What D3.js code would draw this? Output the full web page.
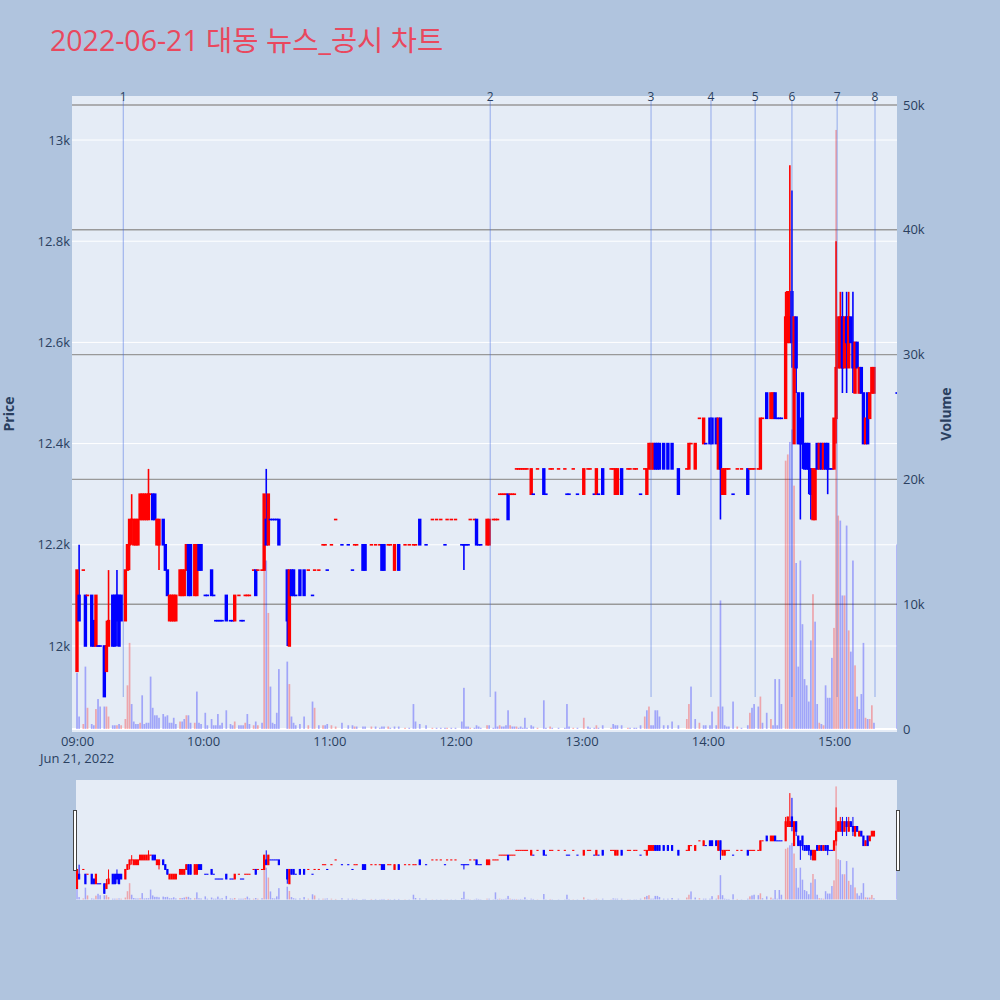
<!DOCTYPE html>
<html>
<head>
<meta charset="utf-8">
<script src="https://cdn.jsdelivr.net/npm/d3@7"></script>
<style>
body{margin:0;background:#b0c4de;}
text{font-family:"Open Sans","Noto Sans CJK KR",sans-serif;}
</style>
</head>
<body>
<svg id="chart" width="1000" height="1000"></svg>
<script>
// minutes after 09:00 for each traded minute
var tMin=[
 0,1,3,4,5,7,8,9,10,11,
 13,14,15,17,18,19,20,21,23,24,
 25,26,27,28,29,30,31,32,33,34,
 35,36,37,38,39,41,42,43,44,45,
 46,47,49,50,51,52,53,54,56,57,
 58,59,61,62,64,65,66,67,68,69,
 71,73,74,75,77,78,79,80,81,82,
 84,85,86,88,89,90,91,92,93,94,
 95,96,100,101,102,103,104,106,108,110,
 112,113,115,117,118,119,121,123,126,129,
 131,132,133,136,137,140,142,144,145,146,
 148,149,151,153,156,158,160,161,163,166,
 169,171,173,175,176,178,180,183,184,185,
 186,187,189,190,191,192,195,196,198,199,
 200,201,202,203,204,205,206,207,208,209,
 210,211,212,213,214,216,217,219,222,223,
 225,226,229,232,233,234,236,238,241,243,
 244,246,247,248,250,254,255,256,257,259,
 262,263,265,266,268,270,271,272,273,274,
 275,276,277,279,281,283,286,290,291,292,
 294,296,298,299,301,302,304,305,306,307,
 308,309,310,312,314,316,319,320,321,322,
 324,325,326,328,330,331,332,333,334,335,
 337,338,339,340,341,342,343,344,345,346,
 347,348,349,350,351,352,353,354,355,356,
 357,358,359,360,361,362,363,364,365,366,
 367,368,369,370,371,372,373,374,375,376,
 377,378,379,390];
var openP=[
 11950,12100,12150,12100,12100,12100,12050,12000,12000,12000,
 12000,11950,12000,12100,12100,12100,12100,12100,12050,12150,
 12200,12250,12200,12200,12200,12250,12250,12250,12250,12250,
 12300,12300,12300,12200,12200,12250,12200,12150,12050,12050,
 12050,12050,12100,12100,12100,12150,12200,12200,12100,12100,
 12200,12200,12100,12100,12150,12100,12050,12050,12050,12050,
 12100,12050,12050,12050,12100,12050,12050,12100,12100,12100,
 12150,12150,12150,12150,12150,12250,12200,12250,12250,12250,
 12250,12250,12150,12000,12150,12150,12100,12150,12150,12150,
 12100,12150,12150,12200,12200,12150,12200,12250,12200,12200,
 12150,12200,12200,12200,12200,12200,12200,12200,12200,12200,
 12200,12200,12150,12200,12200,12200,12200,12200,12250,12200,
 12250,12250,12250,12200,12250,12250,12250,12200,12200,12200,
 12200,12250,12250,12250,12200,12200,12200,12200,12250,12250,
 12250,12300,12300,12300,12300,12300,12300,12300,12300,12350,
 12350,12350,12350,12350,12350,12300,12300,12350,12350,12300,
 12350,12350,12350,12350,12300,12300,12350,12300,12300,12350,
 12350,12300,12300,12300,12350,12350,12350,12300,12300,12350,
 12350,12350,12350,12350,12300,12350,12300,12350,12350,12350,
 12400,12400,12400,12400,12400,12400,12350,12350,12350,12400,
 12350,12450,12400,12400,12450,12450,12450,12350,12450,12300,
 12300,12350,12350,12300,12350,12350,12350,12350,12350,12350,
 12350,12350,12450,12500,12450,12450,12500,12450,12450,12450,
 12450,12600,12600,12700,12400,12650,12500,12450,12500,12400,
 12400,12400,12350,12250,12250,12400,12350,12400,12350,12400,
 12400,12350,12350,12350,12450,12550,12550,12650,12550,12650,
 12550,12650,12600,12500,12600,12500,12550,12500,12400,12500,
 12450,12500,12500,12500];
var highP=[
 12150,12200,12150,12100,12100,12100,12050,12100,12000,12000,
 12000,12050,12150,12100,12100,12150,12100,12100,12150,12200,
 12250,12300,12250,12250,12250,12300,12300,12300,12300,12350,
 12300,12300,12300,12250,12250,12250,12200,12150,12100,12100,
 12100,12100,12150,12150,12150,12200,12200,12200,12200,12200,
 12200,12200,12100,12100,12150,12100,12050,12050,12050,12050,
 12100,12050,12050,12100,12100,12050,12050,12100,12100,12100,
 12150,12150,12150,12150,12300,12350,12300,12250,12250,12250,
 12250,12250,12150,12150,12150,12150,12100,12150,12150,12150,
 12100,12150,12150,12200,12200,12150,12200,12250,12200,12200,
 12150,12200,12200,12200,12200,12200,12200,12200,12200,12200,
 12200,12200,12200,12200,12200,12200,12200,12200,12250,12200,
 12250,12250,12250,12200,12250,12250,12250,12200,12200,12200,
 12200,12250,12250,12250,12200,12200,12250,12250,12250,12250,
 12250,12300,12300,12300,12300,12300,12300,12300,12300,12350,
 12350,12350,12350,12350,12350,12350,12300,12350,12350,12300,
 12350,12350,12350,12350,12300,12300,12350,12300,12350,12350,
 12350,12300,12350,12300,12350,12350,12350,12350,12350,12350,
 12350,12350,12350,12350,12300,12350,12350,12400,12400,12400,
 12400,12400,12400,12400,12400,12400,12350,12350,12400,12400,
 12400,12450,12450,12400,12450,12450,12450,12450,12450,12350,
 12350,12350,12350,12300,12350,12350,12350,12350,12350,12350,
 12350,12450,12450,12500,12500,12500,12500,12450,12450,12450,
 12700,12700,12950,12900,12650,12650,12500,12450,12500,12400,
 12400,12400,12350,12350,12350,12400,12400,12400,12400,12400,
 12400,12350,12350,12450,12800,12650,12700,12700,12650,12700,
 12700,12650,12700,12600,12600,12550,12550,12500,12450,12500,
 12500,12550,12550,12500];
var lowP=[
 11950,12050,12150,12000,12100,12000,12000,12000,12000,12000,
 11900,11950,12000,12000,12000,12000,12000,12050,12050,12150,
 12150,12200,12200,12200,12200,12250,12250,12250,12250,12250,
 12300,12250,12250,12200,12150,12200,12150,12100,12050,12050,
 12050,12050,12100,12100,12100,12150,12100,12100,12100,12100,
 12150,12150,12100,12100,12100,12100,12050,12050,12050,12050,
 12050,12050,12050,12050,12100,12050,12050,12100,12100,12100,
 12150,12100,12150,12150,12150,12200,12200,12250,12250,12250,
 12250,12200,12000,12000,12100,12100,12100,12100,12100,12150,
 12100,12150,12150,12200,12200,12150,12200,12250,12200,12200,
 12150,12200,12200,12150,12150,12200,12200,12200,12150,12150,
 12200,12200,12150,12150,12200,12200,12200,12200,12200,12200,
 12250,12250,12250,12200,12250,12250,12250,12200,12150,12200,
 12200,12250,12250,12200,12200,12200,12200,12200,12250,12250,
 12250,12300,12300,12300,12300,12250,12300,12300,12300,12350,
 12350,12350,12350,12350,12350,12300,12300,12350,12300,12300,
 12350,12350,12350,12350,12300,12300,12350,12300,12300,12350,
 12350,12300,12300,12300,12300,12350,12350,12300,12300,12300,
 12350,12350,12350,12350,12300,12350,12300,12350,12350,12350,
 12350,12350,12350,12350,12350,12350,12300,12350,12350,12400,
 12350,12450,12400,12400,12400,12400,12400,12350,12250,12300,
 12300,12350,12350,12300,12350,12350,12300,12350,12350,12350,
 12350,12350,12450,12450,12450,12450,12450,12450,12450,12450,
 12450,12600,12600,12550,12400,12500,12400,12250,12350,12350,
 12350,12300,12250,12250,12250,12350,12350,12350,12350,12350,
 12300,12350,12350,12350,12400,12550,12550,12500,12550,12500,
 12550,12600,12500,12500,12550,12500,12500,12400,12400,12400,
 12450,12500,12500,12500];
var closeP=[
 12150,12050,12150,12000,12100,12000,12000,12100,12000,12000,
 11900,12000,12050,12000,12000,12050,12000,12050,12150,12200,
 12250,12250,12250,12250,12250,12300,12300,12300,12300,12300,
 12300,12250,12250,12250,12250,12200,12150,12100,12100,12100,
 12100,12100,12150,12150,12150,12200,12100,12100,12200,12200,
 12150,12150,12100,12100,12100,12100,12050,12050,12050,12050,
 12050,12050,12050,12100,12100,12050,12050,12100,12100,12100,
 12150,12100,12150,12150,12300,12200,12300,12250,12250,12250,
 12250,12200,12050,12150,12100,12100,12100,12100,12100,12150,
 12100,12150,12150,12200,12200,12150,12200,12250,12200,12200,
 12150,12200,12200,12150,12150,12200,12200,12200,12150,12150,
 12200,12200,12200,12150,12200,12200,12200,12200,12200,12200,
 12250,12250,12250,12200,12250,12250,12250,12200,12200,12200,
 12200,12250,12250,12200,12200,12200,12250,12250,12250,12250,
 12250,12300,12300,12300,12300,12250,12300,12300,12300,12350,
 12350,12350,12350,12350,12350,12350,12300,12350,12300,12300,
 12350,12350,12350,12350,12300,12300,12350,12300,12350,12350,
 12350,12300,12350,12300,12300,12350,12350,12350,12350,12300,
 12350,12350,12350,12350,12300,12350,12350,12400,12400,12400,
 12350,12350,12350,12350,12350,12350,12300,12350,12400,12400,
 12400,12450,12450,12400,12400,12400,12400,12450,12350,12350,
 12350,12350,12350,12300,12350,12350,12300,12350,12350,12350,
 12350,12450,12450,12450,12500,12500,12450,12450,12450,12450,
 12650,12700,12650,12600,12650,12550,12400,12400,12400,12350,
 12350,12350,12300,12350,12350,12350,12400,12350,12400,12350,
 12350,12350,12350,12450,12550,12650,12650,12550,12650,12600,
 12650,12600,12550,12600,12550,12550,12500,12400,12450,12400,
 12500,12550,12550,12500];
// volume in thousands of shares
var volK=[
 4.5,1.0,0.4,5.0,1.7,0.4,0.3,1.6,2.4,1.8,
 1.8,1.8,1.0,0.3,0.3,0.3,0.4,0.3,0.8,3.5,
 6.9,2.0,0.6,0.4,0.4,0.5,2.7,0.4,0.5,0.5,
 4.2,1.7,1.1,1.1,0.9,1.2,1.0,1.1,0.5,0.5,
 0.9,0.4,0.6,0.6,0.8,1.1,1.1,0.5,0.5,3.0,
 0.5,0.4,1.3,0.3,0.8,0.3,0.3,1.2,0.3,0.5,
 1.5,0.4,0.3,0.6,0.3,0.3,0.3,0.5,1.2,0.4,
 0.3,0.6,0.3,0.5,14.5,13.5,9.3,3.4,0.5,0.4,
 1.3,4.8,5.4,3.6,1.0,0.5,0.3,0.4,1.0,0.3,
 2.2,1.7,0.3,0.3,0.3,0.4,0.3,0.2,0.5,0.3,
 0.3,0.2,0.2,0.2,0.2,0.2,0.2,0.1,0.2,0.2,
 0.2,0.1,0.2,0.2,0.1,0.1,2.0,0.6,0.4,0.3,
 0.1,0.1,0.1,0.1,0.1,0.1,0.1,0.6,3.3,0.2,
 0.2,0.1,0.1,0.3,0.2,0.1,0.3,0.3,0.1,3.0,
 0.2,0.3,0.2,0.2,0.3,1.5,0.3,0.2,0.2,0.2,
 0.1,0.2,0.1,0.9,0.1,0.3,0.2,0.1,2.3,0.1,
 0.2,0.1,0.1,0.1,2.0,0.2,0.1,0.1,0.9,0.2,
 0.1,0.1,0.3,0.1,0.3,0.1,0.4,0.3,0.3,0.3,
 0.1,0.1,0.1,0.1,0.3,1.0,1.5,1.8,0.3,0.3,
 1.5,1.5,1.0,0.3,0.3,0.6,0.3,0.8,2.0,3.4,
 0.8,0.5,0.3,0.3,0.3,1.4,0.3,1.8,10.3,1.8,
 0.3,0.2,0.2,2.2,0.2,0.1,0.3,1.3,1.7,2.0,
 1.8,2.6,0.5,1.3,0.8,0.3,4.0,0.3,4.0,2.0,
 21.5,22.0,23.0,24.0,19.5,13.3,5.0,13.5,8.4,4.0,
 3.5,2.2,7.1,10.8,8.6,2.0,0.5,0.4,0.3,3.5,
 2.5,2.5,5.7,8.1,48.0,17.1,16.7,10.7,10.7,16.3,
 7.9,6.2,13.5,5.1,2.6,1.6,2.8,6.9,0.9,0.8,
 0.8,1.9,0.5,14.8];

// news / disclosure markers (minutes after 09:00)
var newsMin=[22,196.5,273,301.5,322.5,340,361.5,379.5];
var newsLabel=["1","2","3","4","5","6","7","8"];

var priceTicks=[12000,12200,12400,12600,12800,13000];
var volTicks=[0,10000,20000,30000,40000,50000];
var titleText="2022-06-21 대동 뉴스_공시 차트";

var svg=d3.select("#chart");
var plotL=72,plotR=897,plotT=96,plotB=732;
var slL=76,slR=897,slT=780,slB=900;
var day0=new Date(2022,5,21,9,0,0);
function toTime(m){return new Date(day0.getTime()+m*60000);}

var x=d3.scaleTime().domain([toTime(-2.38),toTime(389.96)]).range([plotL,plotR]);
var yP=d3.scaleLinear().domain([11830,13087]).range([plotB,plotT]);
var yV=d3.scaleLinear().domain([-240,50720]).range([plotB,plotT]);
var ySP=yP.copy().range([slB,slT]);
var ySV=yV.copy().range([slB,slT]);

var textCol="#2a3f5f";

// build candle rows, plotly style direction (doji uses previous close)
var candles=[];
var inc=true,cPrev=null;
for(let i=0;i<tMin.length;i++){
	var o=openP[i],c=closeP[i];
	if(c===o){
		if(cPrev!==null&&c!==cPrev) inc=c>cPrev;
	}else inc=c>o;
	var volUp=(cPrev!==null&&c>cPrev);
	candles.push({t:toTime(tMin[i]),o:o,h:highP[i],l:lowP[i],c:c,v:volK[i]*1000,up:inc,vup:volUp});
	cPrev=c;
}

// background
svg.append("rect").attr("width",1000).attr("height",1000).attr("fill","#b0c4de");
svg.append("rect").attr("x",plotL).attr("y",plotT).attr("width",plotR-plotL).attr("height",plotB-plotT).attr("fill","#e5ecf6");

var defs=svg.append("defs");
defs.append("clipPath").attr("id","clipMain").append("rect")
	.attr("x",plotL).attr("y",plotT).attr("width",plotR-plotL).attr("height",plotB-plotT);
defs.append("clipPath").attr("id","clipSl").append("rect")
	.attr("x",slL).attr("y",slT).attr("width",slR-slL).attr("height",slB-slT);

// grid
var grid=svg.append("g");
grid.selectAll(".pg").data(priceTicks).enter().append("line")
	.attr("x1",plotL).attr("x2",plotR)
	.attr("y1",function(d){return yP(d);}).attr("y2",function(d){return yP(d);})
	.attr("stroke","#fff").attr("stroke-width",1);
grid.selectAll(".vg").data(volTicks).enter().append("line")
	.attr("x1",plotL).attr("x2",plotR)
	.attr("y1",function(d){return yV(d);}).attr("y2",function(d){return yV(d);})
	.attr("stroke",function(d){return d===0?"#fff":"#999";})
	.attr("stroke-width",function(d){return d===0?2:1.4;});

function drawCandles(g,ys,bodyW,lw){
	g.selectAll("line.wick").data(candles).enter().append("line")
		.attr("class","wick")
		.attr("x1",function(d){return x(d.t);}).attr("x2",function(d){return x(d.t);})
		.attr("y1",function(d){return ys(d.h);}).attr("y2",function(d){return ys(d.l);})
		.attr("stroke",function(d){return d.up?"#ff0000":"#0000ff";})
		.attr("stroke-width",lw);
	// a zero-height rect is not painted, so doji bodies get a hairline height
	g.selectAll("rect.body").data(candles).enter().append("rect")
		.attr("class","body")
		.attr("x",function(d){return x(d.t)-bodyW/2;})
		.attr("width",bodyW)
		.attr("y",function(d){return ys(Math.max(d.o,d.c));})
		.attr("height",function(d){return Math.max(Math.abs(ys(d.o)-ys(d.c)),0.05);})
		.attr("fill",function(d){return d.up?"#ff0000":"#0000ff";})
		.attr("stroke",function(d){return d.up?"#ff0000":"#0000ff";})
		.attr("stroke-width",lw);
}
function drawVolume(g,ys,w){
	g.selectAll("rect.vol").data(candles).enter().append("rect")
		.attr("class","vol")
		.attr("x",function(d){return x(d.t)-w/2;})
		.attr("width",w)
		.attr("y",function(d){return ys(d.v);})
		.attr("height",function(d){return ys(0)-ys(d.v);})
		.attr("fill",function(d){return d.vup?"rgba(255,0,0,0.3)":"rgba(0,0,255,0.3)";});
}

var main=svg.append("g").attr("clip-path","url(#clipMain)");
drawCandles(main.append("g"),yP,1.8,1.6);
drawVolume(main.append("g"),yV,1.7);

// news lines
var news=svg.append("g");
news.selectAll("line").data(newsMin).enter().append("line")
	.attr("x1",function(d){return x(toTime(d));}).attr("x2",function(d){return x(toTime(d));})
	.attr("y1",plotT+4).attr("y2",697)
	.attr("stroke","royalblue").attr("stroke-opacity",0.5).attr("stroke-width",1);
news.selectAll("text").data(newsMin).enter().append("text")
	.attr("x",function(d){return x(toTime(d));}).attr("y",101)
	.attr("text-anchor","middle").attr("font-size",12).attr("fill",textCol)
	.text(function(d,i){return newsLabel[i];});

// axes
var axL=svg.append("g").attr("transform","translate("+plotL+",0)")
	.call(d3.axisLeft(yP).tickValues(priceTicks).tickFormat(d3.format("~s")).tickSize(0).tickPadding(2));
var axR=svg.append("g").attr("transform","translate("+plotR+",0)")
	.call(d3.axisRight(yV).tickValues(volTicks).tickFormat(d3.format("~s")).tickSize(0).tickPadding(6));
var axB=svg.append("g").attr("transform","translate(0,"+plotB+")")
	.call(d3.axisBottom(x).ticks(d3.timeHour.every(1)).tickFormat(d3.timeFormat("%H:%M")).tickSize(0).tickPadding(5));
[axL,axR,axB].forEach(function(a){
	a.select(".domain").remove();
	a.selectAll("text").attr("font-size",13).attr("fill",textCol).attr("font-family","'Open Sans',sans-serif");
});
svg.append("text").attr("x",x(toTime(0))).attr("y",763).attr("text-anchor","middle")
	.attr("font-size",13).attr("fill",textCol).text("Jun 21, 2022");

svg.append("text").attr("transform","translate(14,414) rotate(-90)").attr("text-anchor","middle")
	.attr("font-size",14).attr("font-weight","bold").attr("fill",textCol).text("Price");
svg.append("text").attr("transform","translate(951,414) rotate(-90)").attr("text-anchor","middle")
	.attr("font-size",14).attr("font-weight","bold").attr("fill",textCol).text("Volume");

// title
svg.append("text").attr("x",50).attr("y",51).attr("font-size",28.5).attr("fill","#e9485e")
	.text(titleText);

// range slider
svg.append("rect").attr("x",slL).attr("y",slT).attr("width",slR-slL).attr("height",slB-slT).attr("fill","#e5ecf6");
var sl=svg.append("g").attr("clip-path","url(#clipSl)");
drawCandles(sl.append("g"),ySP,1.2,1);
drawVolume(sl.append("g"),ySV,1.5);
[slL-2.5,slR-0.5].forEach(function(hx){
	svg.append("rect").attr("x",hx).attr("y",810.5).attr("width",3).attr("height",60)
		.attr("fill","#fff").attr("stroke","#444").attr("stroke-width",1);
});
</script>
</body>
</html>
